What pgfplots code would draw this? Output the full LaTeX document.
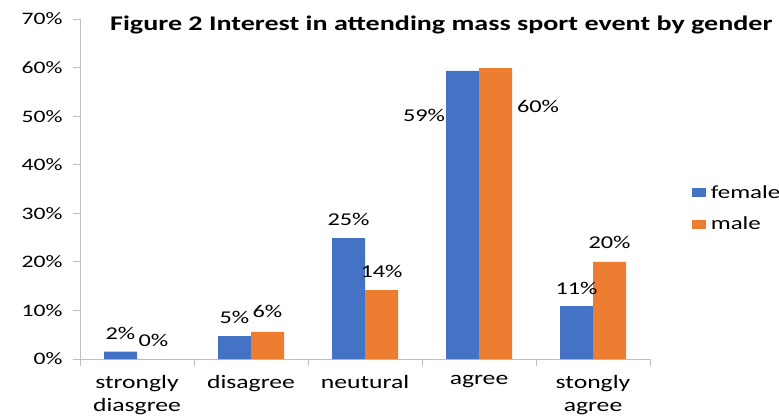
\documentclass[border=0pt]{standalone}
\usepackage{fontspec}
\setmainfont{Carlito}[FakeStretch=1.35]
\usepackage{pgfplots}
\pgfplotsset{compat=1.18}
\usepackage{pgfplotstable}
\definecolor{cfemale}{HTML}{4472C4}
\definecolor{cmale}{HTML}{ED7D31}
\definecolor{axgray}{HTML}{BFBFBF}

\pgfplotstableread{
x y dx dy
0 1.5 0 18
1 4.7 0 19
2 24.9 0 19
3 59.3 -38.5 -44
4 10.9 0 18
}\female
\pgfplotstableread{
x y dx dy
0 0 0 19
1 5.6 0 20
2 14.2 0 19
3 59.9 42.5 -38
4 20.0 0 19
}\male

\begin{document}
\begin{tikzpicture}
\begin{axis}[
  scale only axis, width=570pt, height=340pt,
  at={(0,0)}, anchor=south west,
  ybar=0pt, bar width=33pt,
  xmin=-0.5, xmax=4.5, ymin=0, ymax=70,
  axis x line*=bottom, axis y line*=left,
  axis line style={draw=axgray, line width=0.8pt},
  tick style={draw=axgray, line width=0.8pt},
  tick align=outside,
  major tick length=7pt,
  /pgf/number format/assume math mode=true,
  ytick={0,10,...,70},
  yticklabel={\pgfmathprintnumber{\tick}\%},
  y tick label style={font=\fontsize{17.5}{20}\selectfont, xshift=-7pt},
  xtick={-0.5,0.5,1.5,2.5,3.5,4.5},
  xticklabels={},
  extra x ticks={0,1,2,3,4},
  extra x tick labels={{strongly\\diasgree},disagree,neutural,agree,{stongly\\agree}},
  extra x tick style={major tick length=0pt, tick label style={align=center, font=\fontsize{19}{22.5}\selectfont, yshift=-13pt}},
  legend style={draw=none, at={(axis description cs:1.073,0.443)}, anchor=west, inner sep=0pt, row sep=13pt, column sep=3pt, font=\fontsize{18.5}{20}\selectfont},
  legend cell align=left,
  nodes near coords={\pgfmathprintnumber[fixed,precision=0]{\pgfplotspointmeta}\%},
  every node near coord/.append style={font=\fontsize{18}{20}\selectfont, anchor=center, xshift=\dx pt, yshift=\dy pt, text=black},
  visualization depends on={\thisrow{dx} \as \dx},
  visualization depends on={\thisrow{dy} \as \dy},
]
\addplot[fill=cfemale, draw=none, legend image code/.code={\fill[cfemale] (0pt,-4.5pt) rectangle (14pt,4.5pt);}] table[x=x,y=y]{\female};
\addlegendentry{female}
\addplot[fill=cmale, draw=none, legend image code/.code={\fill[cmale] (0pt,-4.5pt) rectangle (14pt,4.5pt);}] table[x=x,y=y]{\male};
\addlegendentry{male}
\end{axis}
\node[font=\bfseries\fontsize{20.8}{24}\selectfont, anchor=base west, inner sep=0pt] at (30pt,329pt) {Figure 2 Interest in attending mass sport event by gender};
\pgfresetboundingbox
\useasboundingbox (-80pt,-57pt) rectangle (699pt,359pt);
\end{tikzpicture}
\end{document}
